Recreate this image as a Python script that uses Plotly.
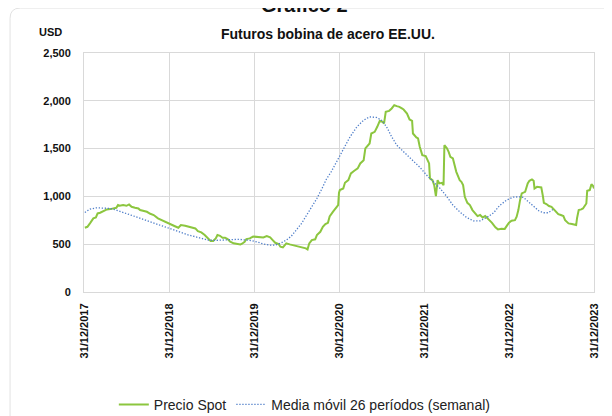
import pandas as pd
import plotly.graph_objects as go

# =============================
# Data
# time in decimal years: 2018.00 = 31/12/2017
# =============================
spot_t = [2018.01, 2018.04, 2018.07, 2018.10, 2018.11, 2018.14, 2018.16, 2018.19, 2018.21, 2018.24,
          2018.27, 2018.31, 2018.34, 2018.38, 2018.40, 2018.42, 2018.46, 2018.50, 2018.53, 2018.56,
          2018.60, 2018.64, 2018.66, 2018.70, 2018.74, 2018.78, 2018.82, 2018.87, 2018.91, 2018.95,
          2018.99, 2019.03, 2019.07, 2019.11, 2019.14, 2019.19, 2019.23, 2019.27, 2019.31, 2019.34,
          2019.38, 2019.42, 2019.46, 2019.49, 2019.52, 2019.55, 2019.57, 2019.60, 2019.63, 2019.66,
          2019.69, 2019.72, 2019.76, 2019.80, 2019.84, 2019.86, 2019.89, 2019.91, 2019.95, 2019.99,
          2020.03, 2020.07, 2020.11, 2020.15, 2020.19, 2020.22, 2020.25, 2020.29, 2020.31, 2020.34,
          2020.38, 2020.42, 2020.46, 2020.50, 2020.54, 2020.58, 2020.61, 2020.63, 2020.65, 2020.68,
          2020.72, 2020.74, 2020.78, 2020.81, 2020.84, 2020.87, 2020.89, 2020.93, 2020.97, 2020.99,
          2021.00, 2021.01, 2021.05, 2021.07, 2021.11, 2021.14, 2021.18, 2021.22, 2021.25, 2021.29,
          2021.31, 2021.33, 2021.36, 2021.38, 2021.42, 2021.45, 2021.48, 2021.51, 2021.53, 2021.55,
          2021.59, 2021.62, 2021.65, 2021.68, 2021.71, 2021.74, 2021.76, 2021.80, 2021.83, 2021.86,
          2021.87, 2021.91, 2021.93, 2021.95, 2021.98, 2022.02, 2022.06, 2022.07, 2022.10, 2022.12,
          2022.14, 2022.16, 2022.18, 2022.21, 2022.23, 2022.24, 2022.27, 2022.29, 2022.31, 2022.34,
          2022.36, 2022.38, 2022.42, 2022.44, 2022.46, 2022.48, 2022.51, 2022.54, 2022.57, 2022.60,
          2022.63, 2022.66, 2022.69, 2022.72, 2022.76, 2022.80, 2022.84, 2022.87, 2022.91, 2022.95,
          2022.98, 2023.00, 2023.03, 2023.07, 2023.09, 2023.11, 2023.13, 2023.15, 2023.19, 2023.22,
          2023.24, 2023.27, 2023.29, 2023.30, 2023.33, 2023.36, 2023.38, 2023.40, 2023.41, 2023.44,
          2023.47, 2023.50, 2023.52, 2023.55, 2023.58, 2023.61, 2023.64, 2023.66, 2023.70, 2023.74,
          2023.79, 2023.80, 2023.82, 2023.85, 2023.87, 2023.91, 2023.92, 2023.95, 2023.97, 2023.99,
          2024.00]
spot_usd = [672, 682, 718, 752, 770, 780, 822, 829, 839, 846,
            864, 867, 874, 881, 909, 902, 909, 902, 916, 891,
            881, 874, 857, 846, 839, 818, 805, 770, 752, 738,
            720, 702, 688, 672, 700, 693, 682, 672, 665, 637,
            624, 596, 561, 533, 533, 561, 596, 588, 568, 568,
            554, 526, 509, 505, 498, 505, 526, 554, 561, 580,
            575, 570, 571, 585, 571, 543, 515, 502, 474, 467,
            509, 498, 491, 481, 474, 467, 457, 446, 509, 543,
            551, 596, 630, 682, 711, 724, 790, 840, 885, 909,
            1040, 1066, 1083, 1142, 1170, 1240, 1268, 1293, 1345, 1379,
            1502, 1519, 1554, 1658, 1675, 1728, 1790, 1780, 1763, 1884,
            1895, 1920, 1954, 1944, 1937, 1920, 1909, 1867, 1805, 1790,
            1658, 1617, 1606, 1520, 1432, 1421, 1345, 1188, 1170, 1118,
            1003, 1170, 1136, 1142, 1118, 1536, 1502, 1466, 1414, 1397,
            1327, 1257, 1170, 1153, 1118, 996, 933, 909, 857, 829,
            794, 805, 780, 794, 760, 724, 676, 655, 662, 660,
            700, 725, 745, 752, 787, 857, 961, 1031, 1048, 1136,
            1163, 1177, 1163, 1083, 1100, 1100, 1094, 996, 933, 920,
            899, 891, 874, 839, 815, 805, 794, 752, 718, 711,
            700, 770, 857, 864, 874, 926, 1059, 1066, 1128, 1108,
            1083]

ma_t = [2018.01, 2018.07, 2018.15, 2018.23, 2018.31, 2018.38, 2018.46, 2018.54, 2018.62, 2018.70,
        2018.78, 2018.86, 2018.93, 2019.01, 2019.09, 2019.15, 2019.23, 2019.31, 2019.38, 2019.46,
        2019.54, 2019.66, 2019.74, 2019.82, 2019.89, 2019.97, 2020.05, 2020.11, 2020.19, 2020.25,
        2020.31, 2020.38, 2020.44, 2020.50, 2020.56, 2020.62, 2020.68, 2020.74, 2020.80, 2020.85,
        2020.91, 2020.97, 2021.05, 2021.13, 2021.21, 2021.29, 2021.36, 2021.44, 2021.50, 2021.56,
        2021.62, 2021.68, 2021.74, 2021.80, 2021.87, 2021.95, 2022.03, 2022.11, 2022.19, 2022.27,
        2022.34, 2022.42, 2022.50, 2022.58, 2022.66, 2022.74, 2022.82, 2022.89, 2022.97, 2023.05,
        2023.13, 2023.17, 2023.23, 2023.29, 2023.35, 2023.40, 2023.46, 2023.52]
ma_usd = [832, 867, 881, 881, 874, 857, 832, 805, 780, 760,
          735, 711, 690, 662, 640, 613, 596, 578, 561, 543,
          540, 543, 551, 551, 545, 538, 520, 502, 491, 491,
          509, 543, 585, 648, 718, 805, 891, 979, 1083, 1177,
          1260, 1362, 1502, 1623, 1728, 1797, 1832, 1826, 1797, 1728,
          1623, 1536, 1484, 1432, 1372, 1306, 1223, 1153, 1083, 996,
          909, 839, 780, 745, 745, 780, 829, 905, 960, 992,
          996, 989, 944, 891, 850, 829, 829, 864]

tick_years = [2018, 2019, 2020, 2021, 2022, 2023, 2024]
tick_labels = ["31/12/2017", "31/12/2018", "31/12/2019", "30/12/2020",
               "31/12/2021", "31/12/2022", "31/12/2023"]
y_ticks = [0, 500, 1000, 1500, 2000, 2500]

# =============================
# PLOT
# =============================
fig = go.Figure()

fig.add_trace(go.Scatter(x=spot_t, y=spot_usd, mode="lines", name="Precio Spot",
                         line=dict(color="#8cc63f", width=2)))
fig.add_trace(go.Scatter(x=ma_t, y=ma_usd, mode="lines", name="Media móvil 26 períodos (semanal)",
                         line=dict(color="#4f7ec9", width=1.3, dash="1.3px,1.7px")))

font_main = "Liberation Sans, Arial, sans-serif"
grid = "#d9d9d9"

# the page body adds 8px, so margins are trimmed by that much
fig.update_layout(
    width=612, height=416,
    margin=dict(l=76, r=26, t=45, b=132),
    paper_bgcolor="white", plot_bgcolor="white",
    font=dict(family=font_main, color="#1a1a1a"),
    showlegend=True,
    legend=dict(orientation="h", x=0.433, xanchor="center",
                yref="container", y=0.046, yanchor="middle",
                font=dict(size=14, color="#222"), itemwidth=30, bgcolor="rgba(0,0,0,0)"),
    annotations=[
        dict(text="<b>Futuros bobina de acero EE.UU.</b>", xref="paper", yref="paper",
             x=0.478, y=1.08, xanchor="center", yanchor="middle", showarrow=False,
             font=dict(size=14, color="#111")),
        dict(text="<b>USD</b>", xref="paper", yref="paper", x=-0.065, y=1.088,
             xanchor="center", yanchor="middle", showarrow=False,
             font=dict(size=11, color="#111")),
        dict(text="<b>Gráfico 2</b>", xref="paper", yref="paper", x=0.433, y=1.148,
             xanchor="center", yanchor="bottom", showarrow=False,
             font=dict(size=20, color="#111")),
    ],
    shapes=[
        dict(type="path", xref="paper", yref="paper",
             path="M -0.145,-0.6 L -0.145,1.145 Q -0.145,1.188 -0.125,1.188 L 1.1,1.188",
             line=dict(color="#e2e2e2", width=1)),
    ],
)

fig.update_xaxes(range=[2018, 2024], tickvals=tick_years,
                 ticktext=["<b>%s</b>" % t for t in tick_labels],
                 tickangle=-90, tickfont=dict(size=11, color="#111", family=font_main),
                 showgrid=True, gridcolor=grid, gridwidth=1,
                 showline=True, linecolor=grid, mirror=True, zeroline=False,
                 ticks="", ticklabelstandoff=6, automargin=False)
fig.update_yaxes(range=[0, 2500], tickvals=y_ticks,
                 ticktext=["<b>{:,}</b>".format(v) for v in y_ticks],
                 tickfont=dict(size=11, color="#111", family=font_main),
                 showgrid=True, gridcolor=grid, gridwidth=1,
                 showline=True, linecolor=grid, mirror=True, zeroline=False,
                 ticks="", ticklabelstandoff=10, automargin=False)

fig.write_html("out.html")
